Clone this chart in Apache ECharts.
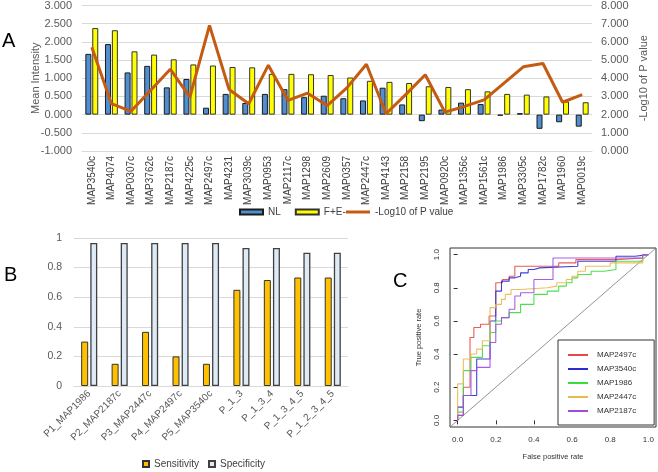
<!DOCTYPE html>
<html><head><meta charset="utf-8">
<script src="https://cdn.jsdelivr.net/npm/echarts@6/dist/echarts.min.js"></script>
<style>html,body{margin:0;padding:0;background:#fff}#c{width:658px;height:472px}</style>
</head><body><div id="c"></div>
<script>
// ---------- Panel A data ----------
const categoriesA = ['MAP3540c','MAP4074','MAP0307c','MAP3762c','MAP2187c','MAP4225c','MAP2497c','MAP4231','MAP3039c','MAP0953','MAP2117c','MAP1298','MAP2609','MAP0357','MAP2447c','MAP4143','MAP2158','MAP2195','MAP0920c','MAP1356c','MAP1561c','MAP1986','MAP3305c','MAP1782c','MAP1960','MAP0019c'];
const nlValues = [1.67,1.94,1.16,1.34,0.75,0.98,0.19,0.57,0.32,0.57,0.70,0.48,0.52,0.45,0.39,0.74,0.28,-0.18,0.14,0.33,0.29,-0.03,0.04,-0.39,-0.21,-0.33];
const feValues = [2.38,2.32,1.74,1.65,1.52,1.38,1.35,1.31,1.30,1.12,1.12,1.11,1.09,1.02,0.93,0.90,0.87,0.78,0.76,0.70,0.64,0.57,0.55,0.50,0.36,0.34];
const logPValues = [5.71,2.60,2.18,3.34,4.50,2.96,6.91,3.38,2.60,4.72,2.78,3.18,2.50,3.47,4.77,2.05,3.10,4.19,2.14,2.45,2.81,3.72,4.63,4.81,2.68,3.10];

// ---------- Panel B data ----------
const categoriesB = ['P1_MAP1986','P2_MAP2187c','P3_MAP2447c','P4_MAP2497c','P5_MAP3540c','P_1_3','P_1_3_4','P_1_3_4_5','P_1_2_3_4_5'];
const sensitivity = [0.30,0.15,0.366,0.20,0.15,0.65,0.716,0.733,0.733];
const specificity = [0.967,0.967,0.967,0.967,0.967,0.933,0.933,0.90,0.90];

// ---------- Panel C data (ROC: [FPR, TPR]) ----------
const rocTicks = [0,0.2,0.4,0.6,0.8,1.0];
const diagonal = [[-0.04,-0.04],[1.04,1.04]];
const rocNames = ['MAP2497c','MAP3540c','MAP1986','MAP2447c','MAP2187c'];
const roc2497c = [[0,0],[0,0.03],[0.03,0.03],[0.03,0.2],[0.065,0.2],[0.065,0.5],[0.085,0.5],[0.085,0.56],[0.12,0.56],[0.12,0.58],[0.165,0.58],[0.165,0.63],[0.2,0.63],[0.2,0.83],[0.235,0.83],[0.235,0.85],[0.27,0.85],[0.27,0.87],[0.3,0.87],[0.3,0.93],[0.53,0.93],[0.53,0.95],[0.62,0.95],[0.62,0.97],[0.83,0.97],[0.83,0.98],[0.97,0.98],[0.97,1],[1,1]];
const roc3540c = [[0,0],[0,0.08],[0.03,0.08],[0.03,0.15],[0.1,0.15],[0.1,0.37],[0.17,0.37],[0.17,0.6],[0.2,0.6],[0.2,0.78],[0.23,0.78],[0.23,0.84],[0.27,0.84],[0.27,0.86],[0.3,0.86],[0.3,0.87],[0.33,0.87],[0.33,0.89],[0.37,0.89],[0.37,0.91],[0.4,0.91],[0.4,0.92],[0.43,0.92],[0.43,0.93],[0.63,0.93],[0.63,0.96],[0.83,0.96],[0.83,0.99],[0.93,0.99],[0.93,1],[1,1]];
const roc1986 = [[0,0],[0,0.05],[0.03,0.05],[0.03,0.3],[0.07,0.3],[0.07,0.38],[0.13,0.38],[0.13,0.45],[0.17,0.45],[0.17,0.53],[0.2,0.53],[0.2,0.6],[0.23,0.6],[0.23,0.62],[0.27,0.62],[0.27,0.65],[0.33,0.65],[0.33,0.7],[0.4,0.7],[0.4,0.76],[0.47,0.76],[0.47,0.78],[0.53,0.78],[0.53,0.81],[0.57,0.81],[0.57,0.83],[0.6,0.83],[0.6,0.86],[0.63,0.86],[0.63,0.88],[0.7,0.88],[0.7,0.9],[0.77,0.9],[0.77,0.91],[0.83,0.91],[0.83,0.96],[0.97,0.96],[0.97,1],[1,1]];
const roc2447c = [[0,0],[0,0.22],[0.03,0.22],[0.03,0.37],[0.07,0.37],[0.07,0.4],[0.1,0.4],[0.1,0.43],[0.13,0.43],[0.13,0.48],[0.17,0.48],[0.17,0.68],[0.2,0.68],[0.2,0.7],[0.23,0.7],[0.23,0.73],[0.25,0.73],[0.25,0.76],[0.28,0.76],[0.28,0.79],[0.33,0.79],[0.33,0.8],[0.47,0.8],[0.47,0.81],[0.52,0.81],[0.52,0.83],[0.57,0.83],[0.57,0.85],[0.6,0.85],[0.6,0.87],[0.63,0.87],[0.63,0.9],[0.67,0.9],[0.67,0.93],[0.8,0.93],[0.8,0.95],[0.97,0.95],[0.97,1],[1,1]];
const roc2187c = [[0,0],[0,0.03],[0.03,0.03],[0.03,0.15],[0.07,0.15],[0.07,0.3],[0.1,0.3],[0.1,0.32],[0.17,0.32],[0.17,0.47],[0.2,0.47],[0.2,0.58],[0.23,0.58],[0.23,0.62],[0.27,0.62],[0.27,0.67],[0.3,0.67],[0.3,0.75],[0.33,0.75],[0.33,0.77],[0.4,0.77],[0.4,0.85],[0.5,0.85],[0.5,0.98],[0.97,0.98],[0.97,1],[1,1]];
const rocData = [roc2497c, roc3540c, roc1986, roc2447c, roc2187c];
const rocColors = ['#e84848','#2b2bd0','#3ddc3d','#e9b84e','#a24ae0'];

const FONT = 'Liberation Sans, Arial, sans-serif';
const chart = echarts.init(document.getElementById('c'));
const fmt3 = v => v.toFixed(3);

const rocSeries = rocNames.map((n, i) => ({
  name: n, type: 'line', xAxisIndex: 2, yAxisIndex: 3, data: rocData[i],
  symbol: 'none', color: rocColors[i], lineStyle: {width: 1.1, opacity: 0.9}, silent: true
}));

const option = {
  animation: false,
  textStyle: {fontFamily: FONT},
  title: [
    {text: 'A', left: 2, top: 31, padding: 0, textStyle: {fontSize: 20, fontWeight: 'normal', color: '#000', fontFamily: FONT}},
    {text: 'B', left: 4, top: 265, padding: 0, textStyle: {fontSize: 20, fontWeight: 'normal', color: '#000', fontFamily: FONT}},
    {text: 'C', left: 393, top: 271, padding: 0, textStyle: {fontSize: 20, fontWeight: 'normal', color: '#000', fontFamily: FONT}}
  ],
  grid: [
    {left: 82, top: 4, width: 510, height: 147},
    {left: 74, top: 238, width: 274, height: 148},
    {left: 450, top: 248, width: 206, height: 179, show: true, borderColor: '#333', borderWidth: 1, backgroundColor: 'transparent'}
  ],
  legend: [
    {data: ['NL','F+E-'], left: 239, top: 207, itemWidth: 23, itemHeight: 5, itemGap: 14, icon: 'rect', padding: 0,
     textStyle: {fontSize: 10, color: '#404040'}},
    {data: ['-Log10 of P value'], left: 346, top: 207, itemWidth: 24, itemHeight: 3, icon: 'rect', padding: 0,
     textStyle: {fontSize: 10, color: '#404040'}},
    {data: ['Sensitivity','Specificity'], left: 142, top: 459, itemWidth: 6, itemHeight: 6, itemGap: 9, icon: 'rect', padding: 0,
     textStyle: {fontSize: 10, color: '#404040'}},
    {data: rocNames, orient: 'vertical', left: 558, top: 340, itemWidth: 20, itemHeight: 2, itemGap: 6, icon: 'rect',
     padding: [11, 18, 10, 10], borderColor: '#333', borderWidth: 1, backgroundColor: '#fff',
     textStyle: {fontSize: 8, color: '#333', padding: [0,0,0,4]}}
  ],
  xAxis: [
    {type: 'category', gridIndex: 0, data: categoriesA,
     axisLine: {show: true, onZero: false, lineStyle: {color: '#d9d9d9'}}, axisTick: {show: false},
     axisLabel: {rotate: 90, interval: 0, fontSize: 10, color: '#404040', margin: 5}},
    {type: 'category', gridIndex: 1, data: categoriesB,
     axisLine: {show: true, lineStyle: {color: '#d9d9d9'}}, axisTick: {show: false},
     axisLabel: {rotate: 45, interval: 0, fontSize: 10, color: '#595959', margin: 6}},
    {type: 'value', gridIndex: 2, min: -0.04, max: 1.04,
     axisLine: {show: false}, splitLine: {show: false},
     axisTick: {show: true, customValues: rocTicks, length: 4, lineStyle: {color: '#333'}},
     axisLabel: {customValues: rocTicks, formatter: v => v.toFixed(1), fontSize: 8, color: '#333', margin: 9},
     name: 'False positive rate', nameLocation: 'middle', nameGap: 26, nameMoveOverlap: false, nameTextStyle: {fontSize: 7.5, color: '#333'}}
  ],
  yAxis: [
    {type: 'value', gridIndex: 0, min: -1, max: 3, interval: 0.5,
     axisLabel: {formatter: fmt3, fontSize: 11, color: '#595959', margin: 10},
     splitLine: {lineStyle: {color: '#d9d9d9'}}, axisLine: {show: false}, axisTick: {show: false},
     name: 'Mean Intensity', nameLocation: 'middle', nameGap: 41, nameRotate: 90, nameMoveOverlap: false, nameTextStyle: {fontSize: 11, color: '#595959'}},
    {type: 'value', gridIndex: 0, min: 0, max: 8, interval: 1, position: 'right',
     axisLabel: {formatter: fmt3, fontSize: 11, color: '#595959', margin: 9},
     splitLine: {show: false}, axisLine: {show: false}, axisTick: {show: false},
     name: '-Log10 of P value', nameLocation: 'middle', nameGap: 46, nameRotate: 90, nameMoveOverlap: false, nameTextStyle: {fontSize: 11, color: '#595959'}},
    {type: 'value', gridIndex: 1, min: 0, max: 1, interval: 0.2,
     axisLabel: {fontSize: 10.5, color: '#595959', margin: 12},
     splitLine: {lineStyle: {color: '#d9d9d9'}}, axisLine: {show: false}, axisTick: {show: false}},
    {type: 'value', gridIndex: 2, min: -0.04, max: 1.04,
     axisLine: {show: false}, splitLine: {show: false},
     axisTick: {show: true, customValues: rocTicks, length: 4, lineStyle: {color: '#333'}},
     axisLabel: {customValues: rocTicks, formatter: v => v.toFixed(1), fontSize: 8, color: '#333', margin: 9, rotate: 90},
     name: 'True positive rate', nameLocation: 'middle', nameGap: 27, nameRotate: 90, nameMoveOverlap: false, nameTextStyle: {fontSize: 7.5, color: '#333'}}
  ],
  series: [
    {name: 'NL', type: 'bar', xAxisIndex: 0, yAxisIndex: 0, data: nlValues, barWidth: 6, barGap: '15%',
     itemStyle: {color: '#4f8fd0', borderColor: '#1a1a1a', borderWidth: 1}},
    {name: 'F+E-', type: 'bar', xAxisIndex: 0, yAxisIndex: 0, data: feValues, barWidth: 6, barGap: '15%',
     itemStyle: {color: '#ffff00', borderColor: '#333', borderWidth: 1}},
    {name: '-Log10 of P value', type: 'line', xAxisIndex: 0, yAxisIndex: 1, data: logPValues, symbol: 'none',
     color: '#c55a11', lineStyle: {width: 3, color: '#c55a11'}, z: 5},
    {name: 'Sensitivity', type: 'bar', xAxisIndex: 1, yAxisIndex: 2, data: sensitivity, barWidth: 7, barGap: '30%',
     itemStyle: {color: '#ffc000', borderColor: '#333', borderWidth: 1}},
    {name: 'Specificity', type: 'bar', xAxisIndex: 1, yAxisIndex: 2, data: specificity, barWidth: 7, barGap: '30%',
     itemStyle: {color: '#deebf7', borderColor: '#404040', borderWidth: 1.3}},
    {name: 'diag', type: 'line', xAxisIndex: 2, yAxisIndex: 3, data: diagonal, symbol: 'none', silent: true,
     lineStyle: {color: '#777', width: 0.8}},
    ...rocSeries
  ]
};
chart.setOption(option);
</script>
</body></html>
